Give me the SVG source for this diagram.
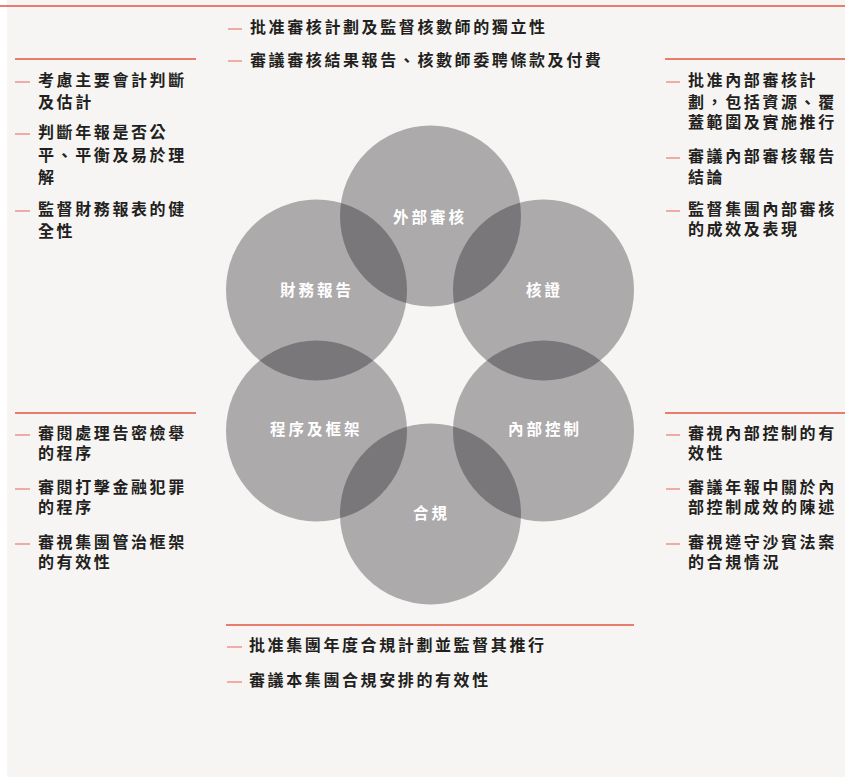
<svg xmlns="http://www.w3.org/2000/svg" width="845" height="778" viewBox="0 0 845 778">
<style>
.bg{fill:#f6f5f3}
.rule{stroke:#e5533f;stroke-width:1.5;fill:none}
.dash{stroke:#ee7b72;stroke-width:1.2;fill:none}
.item{font-family:"Noto Sans CJK TC","Noto Sans CJK SC",sans-serif;font-weight:700;font-size:16px;letter-spacing:2.6px;fill:#231f20}
.circ{fill:#100c14;fill-opacity:0.32}
.lbl{font-family:"Noto Sans CJK TC","Noto Sans CJK SC",sans-serif;font-weight:700;font-size:15.5px;letter-spacing:3px;fill:#ffffff}
</style>
<rect class="bg" x="7" y="0" width="838" height="777"/>
<g id="connectors">
<line class="rule" x1="0" y1="6" x2="845" y2="6"/>
<line class="rule" x1="15" y1="59" x2="196" y2="59"/>
<line class="rule" x1="665" y1="59" x2="845" y2="59"/>
<line class="rule" x1="15" y1="413" x2="196" y2="413"/>
<line class="rule" x1="665" y1="413" x2="845" y2="413"/>
<line class="rule" x1="226" y1="625" x2="634" y2="625"/>
</g>
<g id="top-notes">
<line class="dash" x1="228" y1="29" x2="242" y2="29"/>
<text class="item" x="250" y="33">批准審核計劃及監督核數師的獨立性</text>
<line class="dash" x1="228" y1="61" x2="242" y2="61"/>
<text class="item" x="250" y="66">審議審核結果報告、核數師委聘條款及付費</text>
</g>
<g id="left-top-notes">
<line class="dash" x1="15" y1="82" x2="30" y2="82"/>
<text class="item" x="38" y="86">考慮主要會計判斷</text>
<text class="item" x="38" y="108">及估計</text>
<line class="dash" x1="15" y1="134" x2="30" y2="134"/>
<text class="item" x="38" y="138">判斷年報是否公</text>
<text class="item" x="38" y="161">平、平衡及易於理</text>
<text class="item" x="38" y="183">解</text>
<line class="dash" x1="15" y1="211" x2="30" y2="211"/>
<text class="item" x="38" y="215">監督財務報表的健</text>
<text class="item" x="38" y="237">全性</text>
</g>
<g id="right-top-notes">
<line class="dash" x1="666" y1="82" x2="680" y2="82"/>
<text class="item" x="688" y="86">批准內部審核計</text>
<text class="item" x="688" y="108">劃，包括資源、覆</text>
<text class="item" x="688" y="128">蓋範圍及實施推行</text>
<line class="dash" x1="666" y1="158" x2="680" y2="158"/>
<text class="item" x="688" y="162">審議內部審核報告</text>
<text class="item" x="688" y="183">結論</text>
<line class="dash" x1="666" y1="211" x2="680" y2="211"/>
<text class="item" x="688" y="215">監督集團內部審核</text>
<text class="item" x="688" y="235">的成效及表現</text>
</g>
<g id="left-bottom-notes">
<line class="dash" x1="15" y1="435" x2="30" y2="435"/>
<text class="item" x="38" y="439">審閱處理告密檢舉</text>
<text class="item" x="38" y="459">的程序</text>
<line class="dash" x1="15" y1="489" x2="30" y2="489"/>
<text class="item" x="38" y="493">審閱打擊金融犯罪</text>
<text class="item" x="38" y="513">的程序</text>
<line class="dash" x1="15" y1="544" x2="30" y2="544"/>
<text class="item" x="38" y="548">審視集團管治框架</text>
<text class="item" x="38" y="568">的有效性</text>
</g>
<g id="right-bottom-notes">
<line class="dash" x1="666" y1="435" x2="680" y2="435"/>
<text class="item" x="688" y="439">審視內部控制的有</text>
<text class="item" x="688" y="459">效性</text>
<line class="dash" x1="666" y1="489" x2="680" y2="489"/>
<text class="item" x="688" y="493">審議年報中關於內</text>
<text class="item" x="688" y="513">部控制成效的陳述</text>
<line class="dash" x1="666" y1="544" x2="680" y2="544"/>
<text class="item" x="688" y="548">審視遵守沙賓法案</text>
<text class="item" x="688" y="568">的合規情況</text>
</g>
<g id="bottom-notes">
<line class="dash" x1="227" y1="647" x2="242" y2="647"/>
<text class="item" x="249" y="651">批准集團年度合規計劃並監督其推行</text>
<line class="dash" x1="227" y1="682" x2="242" y2="682"/>
<text class="item" x="249" y="686">審議本集團合規安排的有效性</text>
</g>
<g id="external-audit">
<circle class="circ" cx="430.5" cy="216" r="90.5"/>
<text class="lbl" x="393" y="223">外部審核</text>
</g>
<g id="financial-reporting">
<circle class="circ" cx="316.5" cy="290" r="90.5"/>
<text class="lbl" x="280" y="296">財務報告</text>
</g>
<g id="assurance">
<circle class="circ" cx="543.5" cy="290" r="90.5"/>
<text class="lbl" x="526" y="296">核證</text>
</g>
<g id="procedures-framework">
<circle class="circ" cx="316.5" cy="431" r="90.5"/>
<text class="lbl" x="270" y="435">程序及框架</text>
</g>
<g id="internal-control">
<circle class="circ" cx="543.5" cy="431" r="90.5"/>
<text class="lbl" x="508" y="435">內部控制</text>
</g>
<g id="compliance">
<circle class="circ" cx="430.5" cy="514" r="90.5"/>
<text class="lbl" x="413" y="519">合規</text>
</g>
</svg>
